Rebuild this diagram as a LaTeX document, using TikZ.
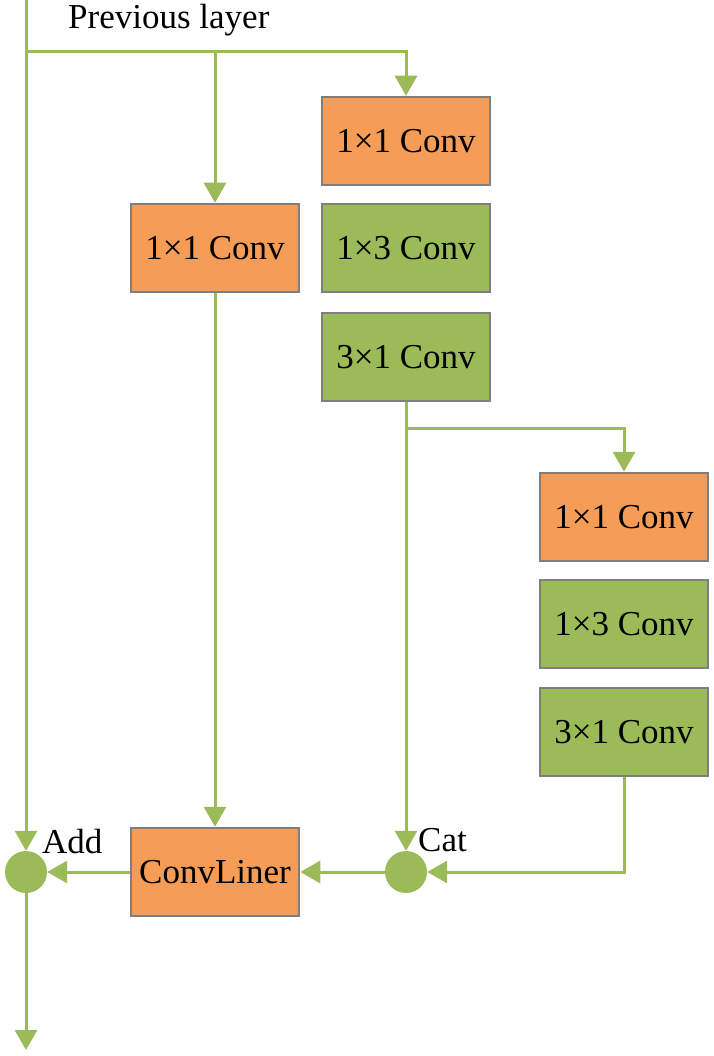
\documentclass[tikz,border=0pt]{standalone}
\usepackage{fontspec}
\setmainfont{Liberation Serif}
\usetikzlibrary{arrows.meta}
\definecolor{convorange}{HTML}{F59D56}
\definecolor{convgreen}{HTML}{9BBB59}
\definecolor{bordergray}{HTML}{7F7F7F}
\definecolor{linegreen}{HTML}{9BBB59}
\begin{document}
\begin{tikzpicture}[x=1pt,y=-1pt,
  box/.style={draw=bordergray, line width=2.5pt, minimum width=168pt, minimum height=88pt, inner sep=0pt, font=\fontsize{35}{42}\selectfont},
  obox/.style={box, fill=convorange},
  gbox/.style={box, fill=convgreen},
  joint/.style={circle, fill=linegreen, minimum size=42pt, inner sep=0pt},
  conn/.style={draw=linegreen, line width=3pt, -{Triangle[width=22pt,length=20pt]}},
  lab/.style={font=\fontsize{35}{42}\selectfont, inner sep=0pt, anchor=base west}]
\useasboundingbox (0,0) rectangle (713,1056);
\node[obox] (a1) at (406,141) {1×1 Conv};
\node[gbox] (a2) at (406,248) {1×3 Conv};
\node[gbox] (a3) at (406,357) {3×1 Conv};
\node[obox] (b) at (215,248) {1×1 Conv};
\node[obox] (c1) at (624,517) {1×1 Conv};
\node[gbox] (c2) at (624,624) {1×3 Conv};
\node[gbox] (c3) at (624,732) {3×1 Conv};
\node[obox] (cl) at (215,872) {ConvLiner};
\node[joint] (cat) at (406,872) {};
\node[joint] (add) at (26,872) {};
\coordinate (top) at (26,0);
\coordinate (out) at (26,1050);
\coordinate (s1) at (26,52);
\coordinate (s2) at (406,428);
\draw[conn] (top) -- (add);
\draw[conn] (s1) -| (a1);
\draw[conn] (b.north |- s1) -- (b);
\draw[conn] (a3) -- (cat);
\draw[conn] (s2) -| (c1);
\draw[conn] (c3) |- (cat);
\draw[conn] (cat) -- (cl);
\draw[conn] (cl) -- (add);
\draw[conn] (b) -- (cl);
\draw[conn] (add) -- (out);
\node[lab] (prev) at (68,29) {Previous layer};
\node[lab] (addl) at (42,853) {Add};
\node[lab] (catl) at (418,851) {Cat};
\end{tikzpicture}
\end{document}
